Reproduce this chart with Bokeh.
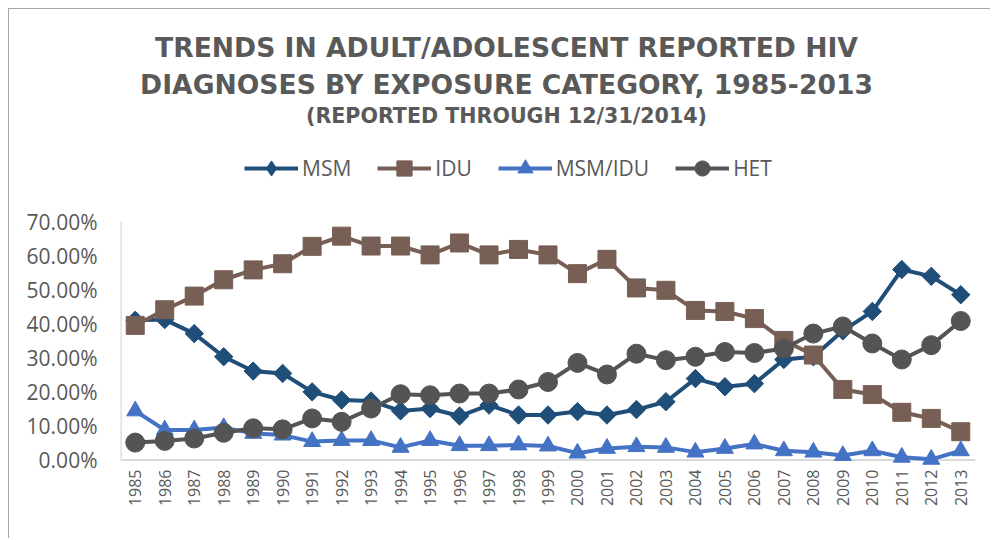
import math
from bokeh.plotting import figure
from bokeh.models import (Range1d, FixedTicker, PrintfTickFormatter, Span, Legend,
                          LegendItem, Label, ColumnDataSource)
from bokeh.embed import file_html
from bokeh.resources import INLINE

# ---------------- data ----------------
years = list(range(1985, 2014))
msm = [41.0, 41.2, 37.1, 30.3, 26.1, 25.4, 20.0, 17.6, 17.3, 14.4, 15.1, 12.9, 16.1, 13.2, 13.2,
       14.2, 13.2, 14.8, 17.1, 23.9, 21.5, 22.4, 29.5, 30.3, 37.9, 43.6, 55.9, 53.9, 48.5]
idu = [39.5, 44.1, 48.1, 52.9, 55.8, 57.6, 62.7, 65.7, 62.8, 62.8, 60.2, 63.7, 60.2, 61.8, 60.2,
       54.7, 58.9, 50.5, 49.8, 43.9, 43.6, 41.5, 35.1, 30.8, 20.7, 19.2, 14.0, 12.2, 8.3]
msm_idu = [14.4, 8.8, 8.8, 9.5, 7.8, 7.3, 5.4, 5.7, 5.7, 3.7, 5.7, 4.2, 4.2, 4.4, 4.1,
           2.0, 3.4, 3.9, 3.7, 2.3, 3.4, 4.7, 2.7, 2.3, 1.3, 2.7, 0.8, 0.2, 2.7]
het = [5.1, 5.6, 6.3, 8.0, 9.3, 9.0, 12.2, 11.2, 15.1, 19.3, 19.0, 19.5, 19.5, 20.7, 22.9,
       28.5, 25.1, 31.2, 29.3, 30.3, 31.7, 31.4, 32.7, 37.1, 39.2, 34.2, 29.5, 33.7, 40.8]
series_names = ["MSM", "IDU", "MSM/IDU", "HET"]
y_ticks = [0, 10, 20, 30, 40, 50, 60, 70]
title_lines = ["TRENDS IN ADULT/ADOLESCENT REPORTED HIV",
               "DIAGNOSES BY EXPOSURE CATEGORY, 1985-2013",
               "(REPORTED THROUGH 12/31/2014)"]

TEXT = "#595959"
AXIS = "#D9D9D9"

# ---------------- layout constants ----------------
W, H = 982, 530
BORDER_BOTTOM = 71          # px below the plotting frame
AXIS_TOP_PX = 212           # px from canvas top to the 70% tick
Y_START = -2.5              # small room below 0% so markers are not clipped
px_per_unit = (H - BORDER_BOTTOM - AXIS_TOP_PX) / (y_ticks[-1] - Y_START)
Y_END = Y_START + (H - BORDER_BOTTOM) / px_per_unit   # frame reaches the canvas top
X_START, X_END = years[0] - 0.5, years[-1] + 0.5

src = ColumnDataSource(dict(year=years, msm=msm, idu=idu, msm_idu=msm_idu, het=het))

p = figure(width=W, height=H, output_backend="svg", toolbar_location=None,
           x_range=Range1d(X_START, X_END), y_range=Range1d(Y_START, Y_END),
           min_border_left=111, min_border_right=16, min_border_top=0,
           min_border_bottom=BORDER_BOTTOM,
           background_fill_color="white", border_fill_color="white", outline_line_color=None)
p.styles = {"margin-top": "8px", "margin-left": "8px",
            "border-top": "1px solid #A6A6A6", "border-left": "1px solid #A6A6A6"}
p.xgrid.visible = False
p.ygrid.visible = False

# x axis
p.xaxis.ticker = FixedTicker(ticks=years)
p.xaxis.major_label_orientation = math.pi / 2
p.xaxis.axis_line_color = None
p.xaxis.major_tick_line_color = None
p.xaxis.minor_tick_line_color = None
p.xaxis.major_tick_out = 0
p.xaxis.major_tick_in = 0
p.xaxis.minor_tick_out = 0
p.xaxis.major_label_standoff = 1
p.xaxis.major_label_text_font = "Open Sans"
p.xaxis.major_label_text_font_size = "16px"
p.xaxis.major_label_text_color = TEXT

# y axis (line drawn separately so it stops at the top tick)
p.yaxis.ticker = FixedTicker(ticks=y_ticks)
p.yaxis.formatter = PrintfTickFormatter(format="%.2f%%")
p.yaxis.axis_line_color = None
p.yaxis.major_tick_line_color = None
p.yaxis.minor_tick_line_color = None
p.yaxis.major_tick_out = 0
p.yaxis.major_tick_in = 0
p.yaxis.minor_tick_out = 0
p.yaxis.major_label_standoff = 23
p.yaxis.major_label_text_font = "Open Sans"
p.yaxis.major_label_text_font_size = "21px"
p.yaxis.major_label_text_color = TEXT

p.segment(x0=[X_START], y0=[y_ticks[0]], x1=[X_START], y1=[y_ticks[-1]],
          line_color=AXIS, line_width=2.5, level="underlay")
p.add_layout(Span(location=0, dimension="width", line_color=AXIS, line_width=2, level="underlay"))

styles = [
    ("msm", "#1F4E79", "square", 13, math.pi / 4, "diamond"),
    ("idu", "#775F55", "square", 18, 0, "square"),
    ("msm_idu", "#4472C4", "triangle", 17, 0, "triangle"),
    ("het", "#545454", "circle", 19, 0, "circle"),
]
items = []
for name, (key, color, marker, size, angle, leg_marker) in zip(series_names, styles):
    ln = p.line("year", key, source=src, line_color=color, line_width=4, line_join="round")
    mk = p.scatter("year", key, source=src, marker=marker, size=size, angle=angle,
                   fill_color=color, line_color=color)
    if leg_marker != marker:
        mk = p.scatter("year", key, source=src, marker=leg_marker, fill_color=color,
                       line_color=color, visible=False)
    items.append(LegendItem(label=name, renderers=[ln, mk]))

# legend placed (in screen px from the frame's bottom-left) above the data
legend = Legend(items=items, orientation="horizontal", location=(124, 281),
                glyph_width=54, glyph_height=38, label_standoff=4, spacing=26,
                padding=0, margin=0, border_line_color=None, background_fill_alpha=0,
                label_text_font="Open Sans", label_text_font_size="21px",
                label_text_color=TEXT, click_policy="none")
p.add_layout(legend, "center")

# chart title (three lines), in screen px from the frame's bottom-left
title_y = [421, 384, 353]
title_size = ["26.6px", "26.6px", "20.6px"]
for txt, ty, fs in zip(title_lines, title_y, title_size):
    p.add_layout(Label(x=386, y=ty, x_units="screen", y_units="screen", text=txt,
                       text_align="center", text_baseline="middle",
                       text_font="DejaVu Sans", text_font_size=fs,
                       text_font_style="bold", text_color=TEXT))

open("out.html", "w").write(file_html(p, INLINE))
